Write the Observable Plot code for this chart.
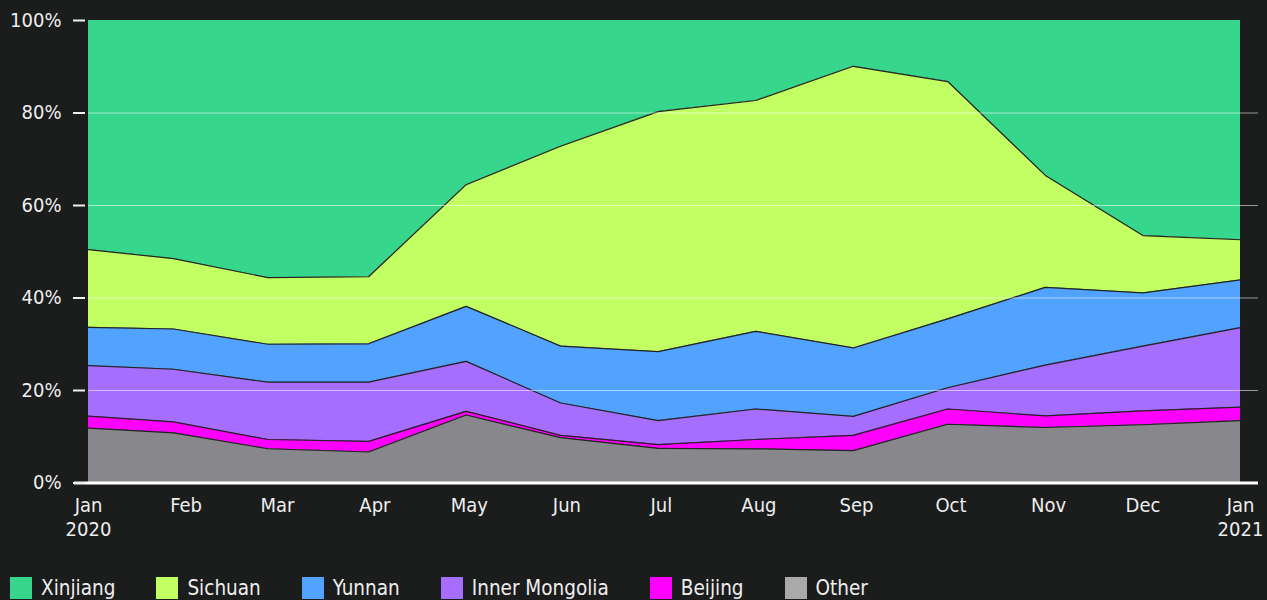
<!DOCTYPE html>
<html><head><meta charset="utf-8">
<script src="https://cdn.jsdelivr.net/npm/d3@7"></script>
<script src="https://cdn.jsdelivr.net/npm/@observablehq/plot@0.6"></script>
<style>
body{margin:0;background:#1b1c1c;color:#eee;font-family:"DejaVu Sans Condensed","DejaVu Sans",sans-serif;}
#legend{display:flex;margin:15px 0 0 10px;font-size:20.5px;line-height:22px}
.item{display:flex;align-items:center;margin-right:41px}
.sw{width:22px;height:22px;margin-right:9px;flex:none}
</style></head><body><div id="chart"></div><div id="legend"></div>
<script>
const dates = ["2020-01-01","2020-01-28","2020-02-27","2020-03-30","2020-04-30","2020-05-30","2020-06-30","2020-07-31","2020-08-31","2020-09-30","2020-10-31","2020-12-01","2021-01-01"];
const series = ["Xinjiang","Sichuan","Yunnan","Inner Mongolia","Beijing","Other"];
const xinjiang      = [49.5, 51.5, 55.6, 55.4, 35.5, 27.2, 19.7, 17.3,  9.9, 13.2, 33.5, 46.5, 47.4];
const sichuan       = [16.8, 15.2, 14.4, 14.5, 26.3, 43.2, 51.9, 49.9, 60.9, 51.3, 24.2, 12.4,  8.7];
const yunnan        = [ 8.3,  8.7,  8.2,  8.3, 11.9, 12.3, 14.9, 16.8, 14.8, 14.9, 16.8, 11.5, 10.3];
const innerMongolia = [10.9, 11.4, 12.4, 12.8, 10.8,  7.0,  5.2,  6.6,  4.1,  4.6, 11.0, 14.0, 17.2];
const beijing       = [ 2.6,  2.35, 2.0,  2.3,  0.8,  0.5,  0.8,  2.0,  3.3,  3.3,  2.5,  3.0,  2.9];
const other         = [11.85,10.85, 7.4,  6.7, 14.7,  9.8,  7.5,  7.4,  7.0, 12.7, 12.0, 12.6, 13.5];
const areaColors   = ["#37d68d","#c1ff62","#52a3ff","#a66eff","#ff00ff","#88878c"];
const legendColors = ["#37d68d","#c1ff62","#52a3ff","#a66eff","#ff00ff","#aaaaaa"];
const monthNames = ["Jan","Feb","Mar","Apr","May","Jun","Jul","Aug","Sep","Oct","Nov","Dec"];

const valuesBySeries = {"Xinjiang":xinjiang,"Sichuan":sichuan,"Yunnan":yunnan,"Inner Mongolia":innerMongolia,"Beijing":beijing,"Other":other};
const stackOrder = ["Other","Beijing","Inner Mongolia","Yunnan","Sichuan","Xinjiang"];
const table = [];
for (const s of stackOrder) dates.forEach((d,i) => table.push({date:new Date(d+"T00:00:00Z"), series:s, value:valuesBySeries[s][i]}));

const stackOpts = {x:"date", y:"value", z:"series", order:stackOrder, offset:"normalize"};
const chart = Plot.plot({
  width:1267, height:562,
  marginLeft:88, marginRight:27, marginTop:20, marginBottom:79.5,
  style:{background:"transparent", color:"#eee", fontSize:"20px", fontFamily:"'DejaVu Sans Condensed','DejaVu Sans',sans-serif"},
  x:{type:"utc", domain:[new Date("2020-01-01T00:00:00Z"), new Date("2021-01-01T00:00:00Z")]},
  y:{domain:[0,1]},
  color:{domain:series, range:areaColors},
  marks:[
    Plot.areaY(table, Plot.stackY({...stackOpts, fill:"series"})),
    Plot.lineY(table, Plot.stackY1({...stackOpts, stroke:"#222", strokeWidth:1.2})),
    Plot.ruleY([0.2,0.4,0.6,0.8], {stroke:"#fff", strokeOpacity:0.55, insetRight:-18}),
    Plot.ruleY([0], {stroke:"#fff", strokeWidth:3, insetLeft:-14, insetRight:-18}),
    Plot.axisY({ticks:[0,0.2,0.4,0.6,0.8,1], tickFormat:d3.format(".0%"), tickSize:12, tickPadding:12, dx:-3, strokeWidth:2, label:null}),
    Plot.axisX({ticks:d3.utcMonth.range(new Date("2020-01-01T00:00:00Z"), new Date("2021-01-02T00:00:00Z")),
      tickFormat:d => monthNames[d.getUTCMonth()] + (d.getUTCMonth()===0 ? "\n"+d.getUTCFullYear() : ""),
      tickSize:0, tickPadding:12, lineHeight:1.2, label:null})
  ]
});
document.getElementById("chart").append(chart);

const legend = document.getElementById("legend");
series.forEach((s,i) => {
  const it = document.createElement("div"); it.className="item";
  const sw = document.createElement("div"); sw.className="sw"; sw.style.background=legendColors[i];
  const tx = document.createElement("span"); tx.textContent=s;
  it.append(sw, tx); legend.append(it);
});
</script></body></html>
